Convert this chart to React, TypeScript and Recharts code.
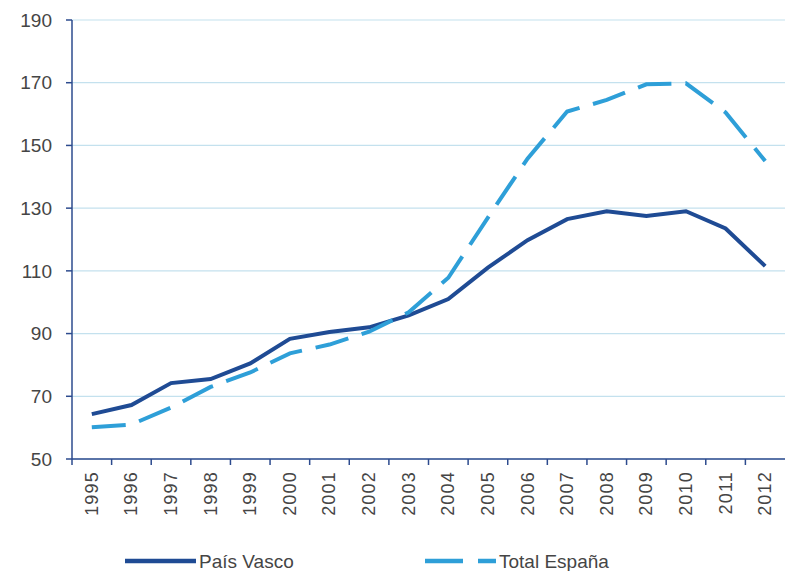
import React from 'react';
import { LineChart, Line, XAxis, YAxis, CartesianGrid, Legend } from 'recharts';

const years = ['1995', '1996', '1997', '1998', '1999', '2000', '2001', '2002', '2003', '2004', '2005', '2006', '2007', '2008', '2009', '2010', '2011', '2012'];
const paisVasco = [64.3, 67.2, 74.2, 75.5, 80.5, 88.3, 90.5, 92.0, 95.8, 101.0, 111.0, 119.8, 126.5, 129.0, 127.5, 129.0, 123.5, 111.5];
const totalEspana = [60.1, 61.0, 66.4, 73.0, 77.6, 83.7, 86.5, 90.6, 96.8, 107.8, 127.0, 145.8, 160.8, 164.5, 169.5, 169.8, 160.5, 145.0];
const yTicks = [50, 70, 90, 110, 130, 150, 170, 190];

const data = years.map((year, i) => ({ year, pv: paisVasco[i], te: totalEspana[i] }));

const W = 787;
const H = 571;
const MARGIN = { top: 20, right: 2, left: 0, bottom: 0 };
const Y_WIDTH = 72;
const BAND = (W - MARGIN.left - MARGIN.right - Y_WIDTH) / years.length;

const NAVY = '#1f4b94';
const LIGHT = '#2e9fd8';
const AXIS = '#2d4b8e';
const GRID = '#c4e1ee';
const TEXT = '#454545';
const FONT = '"Liberation Sans", Arial, sans-serif';

function YearTick({ x, y, payload }: any) {
  return (
    <g>
      <line x1={x - BAND / 2} y1={y} x2={x - BAND / 2} y2={y + 6} stroke={AXIS} strokeWidth={1.5} />
      <text
        x={x}
        y={y + 12}
        transform={`rotate(-90, ${x}, ${y + 12})`}
        textAnchor="end"
        dominantBaseline="central"
        fill={TEXT}
        fontSize={18}
        letterSpacing={1.2}
        fontFamily={FONT}
      >
        {payload.value}
      </text>
    </g>
  );
}

function LegendBox({ payload }: any) {
  const items = payload || [];
  const pos = [125, 425];
  return (
    <svg width={W} height={22} style={{ display: 'block' }}>
      {items.map((item: any, i: number) => {
        const x0 = pos[i] ?? 125 + i * 300;
        return (
          <g key={item.value}>
            <line
              x1={x0}
              y1={12}
              x2={x0 + 71}
              y2={12}
              stroke={item.color}
              strokeWidth={4.5}
              strokeDasharray={i === 1 ? '38 15' : undefined}
            />
            <text x={x0 + 74} y={12} dominantBaseline="central" fill={TEXT} fontSize={19} fontFamily={FONT}>
              {item.value}
            </text>
          </g>
        );
      })}
    </svg>
  );
}

export default function App() {
  return (
    <div style={{ position: 'absolute', left: 0, top: 0, width: W, height: H, background: '#fff' }}>
      <LineChart width={W} height={H} data={data} margin={MARGIN}>
        <CartesianGrid vertical={false} stroke={GRID} strokeWidth={1.2} />
        <XAxis
          dataKey="year"
          scale="band"
          height={90}
          tickSize={0}
          tickMargin={0}
          tickLine={false}
          interval={0}
          axisLine={{ stroke: AXIS, strokeWidth: 1.5 }}
          tick={<YearTick />}
        />
        <YAxis
          width={Y_WIDTH}
          domain={[50, 190]}
          ticks={yTicks}
          interval={0}
          tickSize={6}
          tickMargin={14}
          axisLine={{ stroke: AXIS, strokeWidth: 1.5 }}
          tickLine={{ stroke: AXIS, strokeWidth: 1.5 }}
          tick={{ fill: TEXT, fontSize: 19, fontFamily: FONT }}
        />
        <Legend verticalAlign="bottom" height={22} content={<LegendBox />} />
        <Line
          type="linear"
          dataKey="pv"
          name="País Vasco"
          stroke={NAVY}
          strokeWidth={4}
          dot={false}
          isAnimationActive={false}
        />
        <Line
          type="linear"
          dataKey="te"
          name="Total España"
          stroke={LIGHT}
          strokeWidth={4}
          strokeDasharray="34 14"
          dot={false}
          isAnimationActive={false}
        />
      </LineChart>
    </div>
  );
}
